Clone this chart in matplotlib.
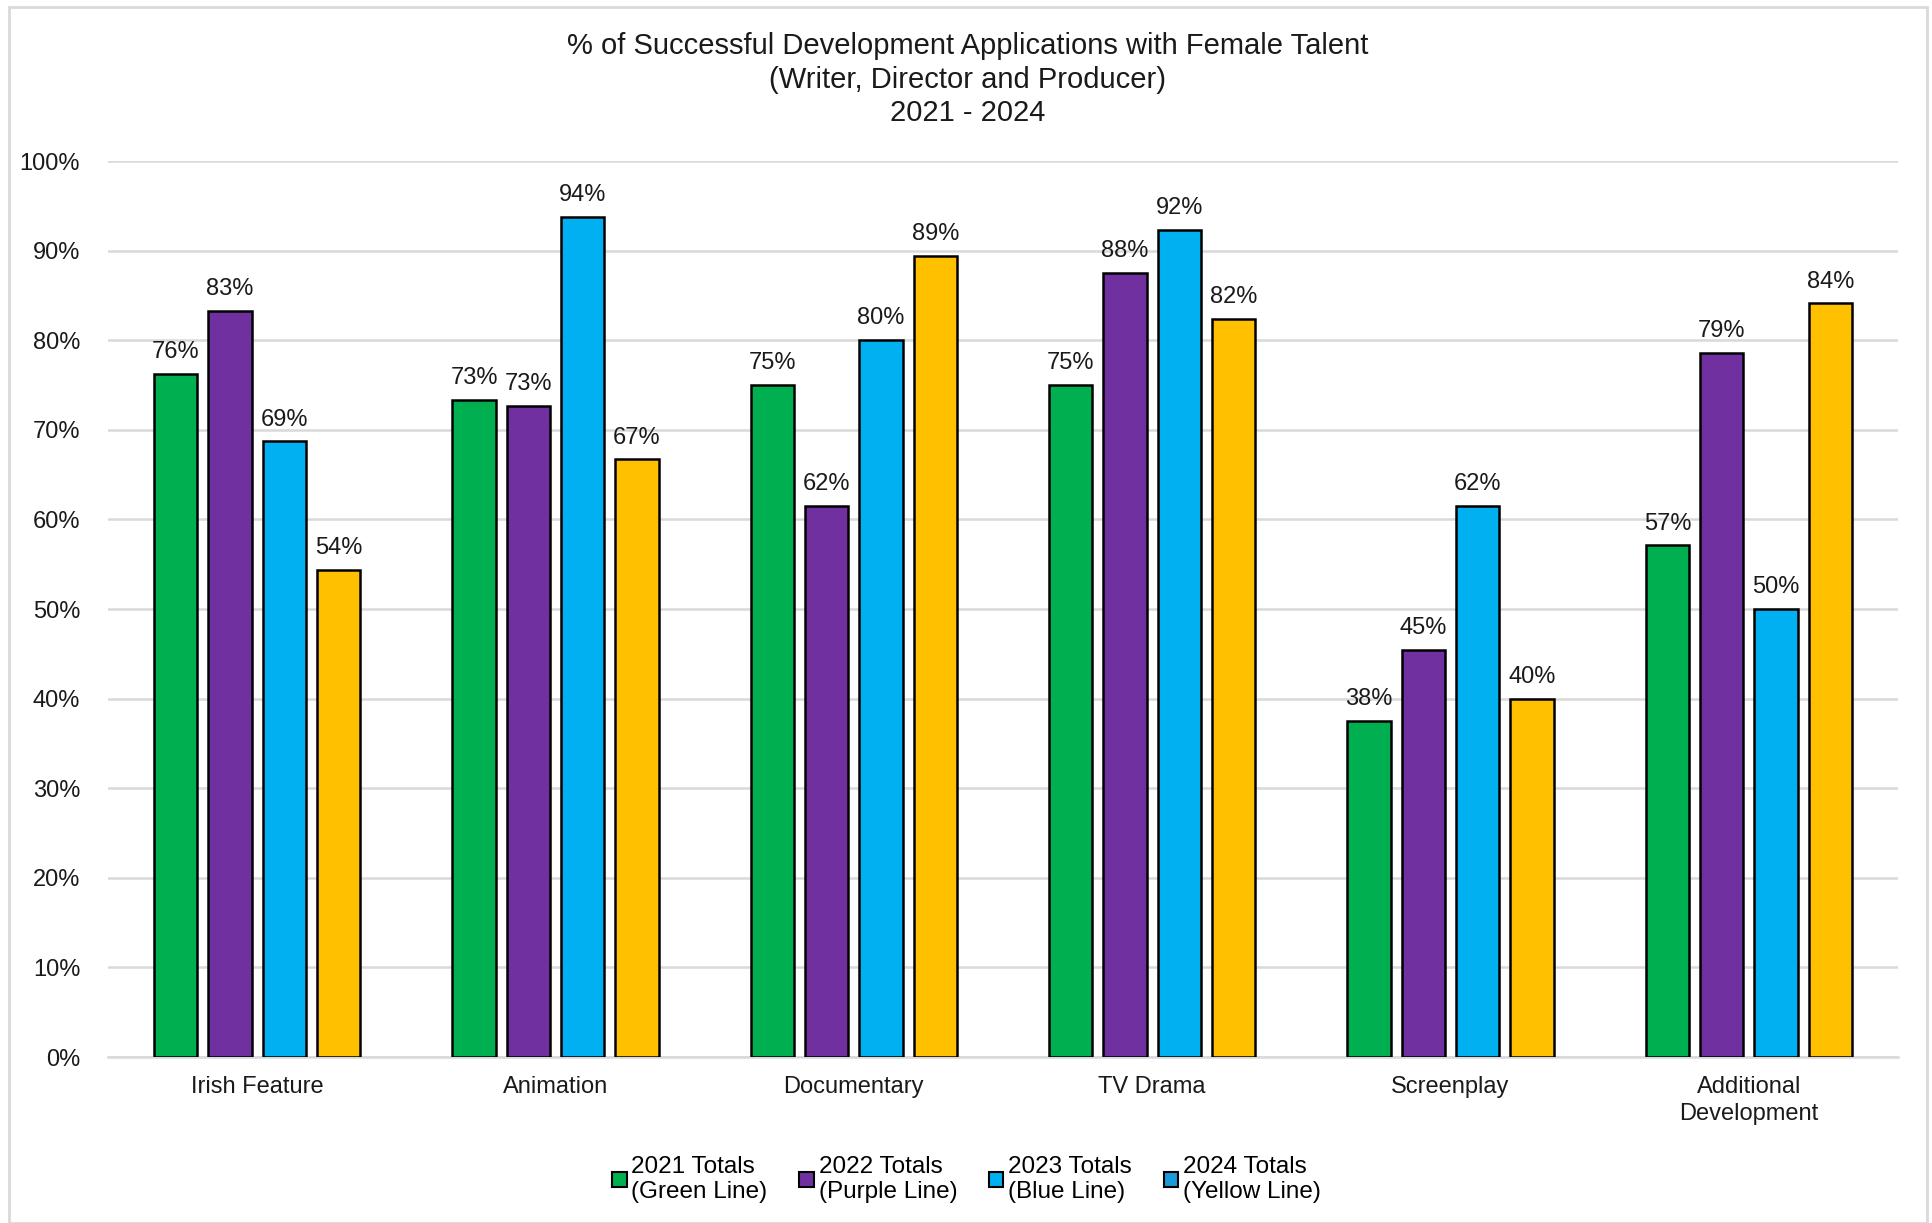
import matplotlib
matplotlib.use("Agg")
import matplotlib.pyplot as plt
import numpy as np
from matplotlib.patches import Patch, Rectangle

plt.rcParams['font.family'] = ['Liberation Sans', 'DejaVu Sans']

categories = ["Irish Feature", "Animation", "Documentary", "TV Drama", "Screenplay", "Additional\nDevelopment"]
series_names = ["2021 Totals\n(Green Line)", "2022 Totals\n(Purple Line)", "2023 Totals\n(Blue Line)", "2024 Totals\n(Yellow Line)"]
v2021 = [76.2, 73.3, 75.0, 75.0, 37.5, 57.1]
v2022 = [83.3, 72.7, 61.5, 87.5, 45.4, 78.6]
v2023 = [68.7, 93.8, 80.0, 92.3, 61.5, 50.0]
v2024 = [54.4, 66.7, 89.4, 82.4, 40.0, 84.1]
values = [v2021, v2022, v2023, v2024]
colors = ["#00B050", "#7030A0", "#00B0F0", "#FFC000"]
legend_colors = ["#00B050", "#7030A0", "#00B0F0", "#1A9AD6"]
yticks = [0, 10, 20, 30, 40, 50, 60, 70, 80, 90, 100]

W, H = 1933, 1223
fig = plt.figure(figsize=(W / 100, H / 100), dpi=100)
ax = fig.add_axes([108 / W, 1 - 1057 / H, (1898 - 108) / W, (1057 - 161) / H])

x = np.arange(len(categories))
pitch = 0.182
width = 0.145
for i, (vals, c) in enumerate(zip(values, colors)):
    pos = x + (i - 1.5) * pitch
    bars = ax.bar(pos, vals, width, color=c, edgecolor="black", linewidth=1.8, zorder=3)
    for b, v in zip(bars, vals):
        ax.text(b.get_x() + b.get_width() / 2, v + 1.2, f"{int(v + 0.5):d}%",
                ha="center", va="bottom", fontsize=17, color="#1a1a1a")

ax.set_xlim(-0.5, len(categories) - 0.5)
ax.set_ylim(0, 100)
ax.set_yticks(yticks)
ax.set_yticklabels([f"{t}%" for t in yticks], fontsize=17, color="#1a1a1a")
ax.set_xticks(x)
ax.set_xticklabels(categories, fontsize=17, color="#1a1a1a", linespacing=1.25)
ax.tick_params(axis="both", length=0)
ax.tick_params(axis="y", pad=20)
ax.tick_params(axis="x", pad=14)
ax.grid(axis="y", color="#D9D9D9", linewidth=1.8, zorder=0)
for s in ["top", "right", "left"]:
    ax.spines[s].set_visible(False)
ax.spines["bottom"].set_color("#D9D9D9")
ax.spines["bottom"].set_linewidth(1.8)

tx = (457 + 1113) / 2 * (W / 1568) / W
fig.text(tx, 1 - 46 / H, "% of Successful Development Applications with Female Talent", ha="center", va="center", fontsize=21, color="#1a1a1a")
fig.text(tx, 1 - 79.5 / H, "(Writer, Director and Producer)", ha="center", va="center", fontsize=21, color="#1a1a1a")
fig.text(tx, 1 - 113 / H, "2021 - 2024", ha="center", va="center", fontsize=21, color="#1a1a1a")

handles = [Patch(facecolor=c, edgecolor="black", linewidth=1.5) for c in legend_colors]
fig.legend(handles, series_names, loc="upper center", bbox_to_anchor=(0.5, 1 - 1134 / H), ncol=4,
           frameon=False, fontsize=17.5, handlelength=0.6, handleheight=0.6, handletextpad=0.2,
           columnspacing=1.3, labelspacing=0.2)

fig.patches.append(Rectangle((9 / W, 0), (1927 - 9) / W, 1 - 7 / H, transform=fig.transFigure,
                             fill=False, edgecolor="#D9D9D9", linewidth=2))

fig.savefig("out.png", dpi=100, facecolor="white")
